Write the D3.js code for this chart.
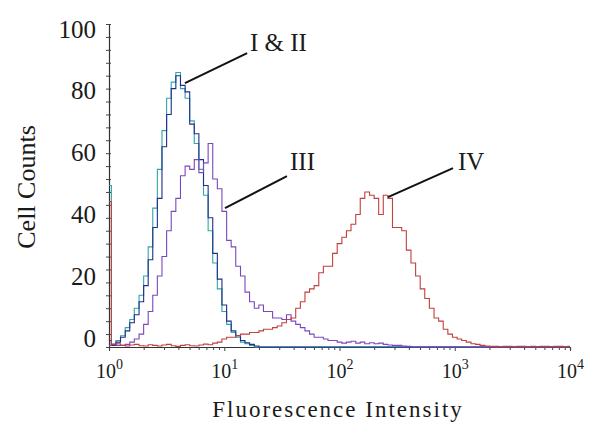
<!DOCTYPE html>
<html>
<head>
<meta charset="utf-8">
<script src="https://cdnjs.cloudflare.com/ajax/libs/d3/7.8.5/d3.min.js"></script>
<style>
body{margin:0;background:#fff;}
svg text{font-family:"Liberation Serif","Times New Roman",serif;fill:#1a1a1a;}
</style>
</head>
<body>
<svg id="canvas"></svg>
<script>
// histogram bins (fluorescence intensity, log spaced channels)
let intensity = [1.00,1.10,1.20,1.32,1.45,1.58,1.74,1.91,2.09,2.29,2.51,2.75,3.02,3.31,3.63,3.98,4.37,4.79,5.25,5.75,6.31,6.92,7.59,8.32,9.12,
  10.0,11.0,12.0,13.2,14.5,15.8,17.4,19.1,20.9,22.9,25.1,27.5,30.2,33.1,36.3,39.8,43.7,47.9,52.5,57.5,63.1,69.2,75.9,83.2,91.2,
  100,110,120,132,145,158,174,191,209,229,251,275,302,331,363,398,437,479,525,575,631,692,759,832,912,
  1000,1100,1200,1320,1450,1580,1740,1910,2090,2290,2510,2750,3020,3310,3630,3980,4370,4790,5250,5750,6310,6920,7590,8320,9120,10000];

let countsI = [50,0.8,2,3.5,6,8.5,12,16,22,31,43,55,67,77,82,85,80,77,70,63,55,47,36,26,18,
  11,7,4.5,3,1.5,1,0.5,0,0,0,0,0,0,0,0,0,0,0,0,0,0,0,0,0,0,
  0,0,0,0,0,0,0,0,0,0,0,0,0,0,0,0,0,0,0,0,0,0,0,0,0,
  0,0,0,0,0,0,0,0,0,0,0,0,0,0,0,0,0,0,0,0,0,0,0,0,0,0];

let countsII = [2,0.5,1.5,3,5,7.5,10,14,19,27,37,46,62,72,80,84,81,79,69,66,58,50,40,29,21,
  13,8,5,3.5,2,1.3,0.8,0.3,0,0,0,0,0,0,0,0,0,0,0,0,0,0,0,0,0,
  0,0,0,0,0,0,0,0,0,0,0,0,0,0,0,0,0,0,0,0,0,0,0,0,0,
  0,0,0,0,0,0,0,0,0,0,0,0,0,0,0,0,0,0,0,0,0,0,0,0,0,0];

let countsIII = [0.5,0.8,0.5,0.5,0.8,1.5,2.5,4,7,11,16,22,28,36,42,46,53,56,55,58,54,57,63,52,49,
  42,33,31,25,22,17,14,12,13,11,11,9,9,8.5,10,8,7,6,5,4,3,3,2.5,2,2,
  1.5,1.2,1.5,1.8,1.2,1.5,1,1.3,1,1.2,0.8,0.6,0.5,0.5,0.3,0.2,0,0,0,0,0,0,0,0,0,
  0,0,0,0,0,0,0,0,0,0,0,0,0,0,0,0,0,0,0,0,0,0,0,0,0,0];

let countsIV = [45,0.8,1,0.5,0.3,0.6,0.8,0.4,0.3,0.7,0.5,0.3,0.6,0.8,0.4,0.2,0.5,0.7,0.4,0.3,0.6,0.9,0.7,1.2,1.5,
  2.5,3,3,3.5,4,4,4.5,4.5,5,5.5,5.5,6,6.5,7.5,8.5,9,12,14,17,18,19,23,25,25,29,
  32,34,36,38,41,46,48,47,46,41,47,46,37,37,36,30,26,22,18,15,12,9,8,5.5,4,
  3,2.5,2,1.5,1,0.8,0.5,0.3,0.2,0.2,0.1,0.2,0.2,0.1,0.2,0.2,0.1,0.2,0.1,0.2,0.2,0.1,0.2,0.2,0.1,0.2];

let seriesNames = ["I","II","III","IV"];
let seriesColors = ["#2fa6a8","#1f2e8c","#7b47bd","#c0403c"];

let yMajorTicks = [0,20,40,60,80,100];
let yMinorTicks = [0,4,8,12,16,20,24,28,32,36,40,44,48,52,56,60,64,68,72,76,80,84,88,92,96,100];
let xMajorTicks = [1,10,100,1000,10000];
let xExponents = ["0","1","2","3","4"];
let xMinorTicks = [2,3,4,5,6,7,8,9,20,30,40,50,60,70,80,90,200,300,400,500,600,700,800,900,2000,3000,4000,5000,6000,7000,8000,9000];

// labels with leader lines, in data units
let annotations = [
  {text:"I & II", tx:16.7, ty:91.6, x1:15.8, y1:91, x2:4.56, y2:81.7},
  {text:"III", tx:37.2, ty:54.8, x1:35.0, y1:52.9, x2:10.15, y2:43},
  {text:"IV", tx:1067, ty:54.8, x1:966, y1:55.4, x2:263.6, y2:46.4}
];

let width = 600;
let height = 447;

let canvas = d3.select("#canvas");
canvas.attr("width", width)
canvas.attr("height", height)

let xScale = d3.scaleLog()
               .domain([1, 10000])
               .range([109, 570])

let yScale = d3.scaleLinear()
               .domain([0, 100])
               .range([347, 24])

// the printed numbers sit slightly off their ticks in the original
let yLabelScale = d3.scaleLinear()
               .domain([0, 100])
               .range([338, 29])

let drawAxes = ()=>{
    let yAxis = d3.axisLeft(yScale)
                  .tickValues(yMinorTicks)
                  .tickSize(3)
                  .tickFormat("")
    let yg = canvas.append("g")
          .attr("transform", "translate(109,0)")
          .call(yAxis)
    yg.selectAll(".tick line").attr("x2", -3).attr("x1", 2).attr("stroke", "#444")
    yg.select(".domain").attr("stroke", "#333").attr("stroke-width", 1.2)

    let yLabels = d3.axisLeft(yLabelScale)
                    .tickValues(yMajorTicks)
                    .tickSize(0)
                    .tickPadding(0)
    let yl = canvas.append("g")
          .attr("transform", "translate(96,0)")
          .call(yLabels)
    yl.select(".domain").remove()
    yl.selectAll("text").style("font-size", "25px").attr("fill", "#1a1a1a")

    let xMinor = d3.axisBottom(xScale)
                   .tickValues(xMinorTicks)
                   .tickSize(3)
                   .tickFormat("")
    let xg = canvas.append("g")
          .attr("transform", "translate(0,347)")
          .call(xMinor)
    xg.select(".domain").attr("stroke", "#333").attr("stroke-width", 1.2)
    xg.selectAll(".tick line").attr("stroke", "#444")

    let xMajor = d3.axisBottom(xScale)
                   .tickValues(xMajorTicks)
                   .tickSize(4)
    let xm = canvas.append("g")
          .attr("transform", "translate(0,347)")
          .call(xMajor)
    xm.select(".domain").remove()
    xm.selectAll(".tick line").attr("stroke", "#444")
    xm.selectAll(".tick text")
      .attr("y", 31)
      .attr("dy", null)
      .attr("fill", "#1a1a1a")
      .style("font-size", "20px")
      .each(function(d, i){
          let t = d3.select(this)
          t.text("")
          t.append("tspan").text("10")
          t.append("tspan").attr("dy", -9).style("font-size", "14px").text(xExponents[i])
      })

    canvas.append("text")
          .attr("x", 338)
          .attr("y", 417)
          .attr("text-anchor", "middle")
          .style("font-size", "23px")
          .style("letter-spacing", "2px")
          .text("Fluorescence Intensity")

    canvas.append("text")
          .attr("transform", "translate(35,187) rotate(-90)")
          .attr("text-anchor", "middle")
          .style("font-size", "26px")
          .text("Cell Counts")
}

let drawCurves = ()=>{
    let line = d3.line()
                 .x((d)=>xScale(d.x))
                 .y((d)=>yScale(d.y))
                 .curve(d3.curveStep)

    let allCounts = [countsI, countsII, countsIII, countsIV]
    allCounts.forEach((counts, i)=>{
        let pts = intensity.map((v, j)=>({x: v, y: counts[j]}))
        canvas.append("path")
              .datum(pts)
              .attr("class", "curve-" + seriesNames[i])
              .attr("fill", "none")
              .attr("stroke", seriesColors[i])
              .attr("stroke-width", 1.1)
              .attr("d", line)
    })
}

let drawLabels = ()=>{
    canvas.selectAll(".leader")
          .data(annotations)
          .enter()
          .append("line")
          .attr("class", "leader")
          .attr("x1", (d)=>xScale(d.x1))
          .attr("y1", (d)=>yScale(d.y1))
          .attr("x2", (d)=>xScale(d.x2))
          .attr("y2", (d)=>yScale(d.y2))
          .attr("stroke", "#111")
          .attr("stroke-width", 2)

    canvas.selectAll(".ann")
          .data(annotations)
          .enter()
          .append("text")
          .attr("class", "ann")
          .attr("x", (d)=>xScale(d.tx))
          .attr("y", (d)=>yScale(d.ty))
          .style("font-size", "25px")
          .text((d)=>d.text)
}

drawAxes();
drawCurves();
drawLabels();
</script>
</body>
</html>
